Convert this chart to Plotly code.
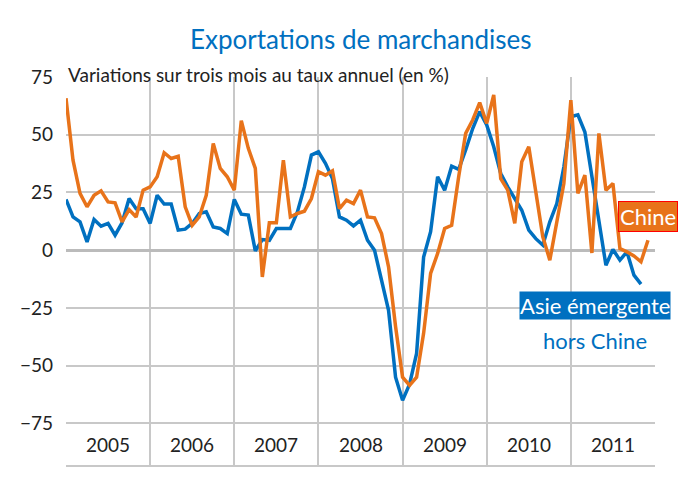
import plotly.graph_objects as go

# monthly, Jan 2005 onwards
asie = [22, 14.4, 12.3, 3.6, 13.3, 10.4, 11.6, 6.5, 11.9, 22.4, 18, 18, 11.6, 23.8, 20, 20,
        8.7, 9.1, 11.6, 15.9, 16.6, 10.1, 9.4, 7.2, 22, 15.6, 15.2, -0.3, 4.6, 4.3, 9.4, 9.4,
        9.4, 16.6, 27.4, 41.2, 42.6, 37.6, 31, 14.4, 13, 10.5, 13, 4.3, 0, -13, -26, -55,
        -65, -58, -44.7, -3, 8, 31.8, 26, 36.4, 35, 43.4, 52.7, 60, 54.2, 44.8, 33.2, 27.4,
        22.4, 17.3, 8.7, 5, 2.2, 12.3, 20.2, 36, 57.8, 58.6, 51.2, 31.8, 13, -6.5, 0.3, -4.3,
        -0.7, -10.8, -14.7]
chine = [65.8, 39, 24.6, 18.8, 23.8, 25.7, 20.9, 20.5, 12.3, 17.6, 14.4, 26, 27.4, 31.8, 42.2, 39.7,
         40.7, 18.8, 10.8, 14.4, 23.8, 46.2, 35.4, 31.8, 26, 56.1, 44.1, 35.4, -11.6, 11.9, 11.9, 39,
         14.4, 15.9, 16.9, 22.4, 34, 32.5, 34.4, 18, 21.7, 20.2, 26, 14.4, 14, 7.2, -7.2, -33,
         -55, -58.5, -55, -36, -10, -1.4, 9.4, 10.8, 31.8, 50.6, 56.4, 63.9, 54.9, 67.2, 31, 26,
         11.6, 38.3, 44.8, 26, 5.8, -4.3, 11.6, 28.9, 65, 24.6, 32.5, -1.2, 50.6, 26, 28.9, 0.7,
         -0.7, -2.5, -5, 4.3]
years = ["2005", "2006", "2007", "2008", "2009", "2010", "2011"]
yticks = [-75, -50, -25, 0, 25, 50, 75]

blue = "#0070C0"
orange = "#E8731A"
fnt = "Lato"

fig = go.Figure()
fig.add_trace(go.Scatter(x=list(range(len(asie))), y=asie, mode="lines",
                         line=dict(color=blue, width=3.5), showlegend=False))
fig.add_trace(go.Scatter(x=list(range(len(chine))), y=chine, mode="lines",
                         line=dict(color=orange, width=3.5), showlegend=False))

for i, yr in enumerate(years):
    fig.add_annotation(x=i * 12 + 6, y=-84, text=yr, showarrow=False,
                       font=dict(size=19, color="#222", family=fnt))

fig.add_annotation(x=0.5, y=1.0, xref="paper", yref="paper", yshift=56, showarrow=False,
                   text="Exportations de marchandises", font=dict(size=26, color=blue, family=fnt))
fig.add_annotation(x=0.0, y=1.0, xref="paper", yref="paper", xanchor="left", yshift=16,
                   showarrow=False, text="Variations sur trois mois au taux annuel (en %)",
                   font=dict(size=19, color="#222", family=fnt))
fig.add_annotation(x=83, y=14.5, text="Chine", showarrow=False, bgcolor=orange,
                   bordercolor="#FF0000", borderwidth=1, borderpad=1,
                   font=dict(size=22, color="white", family=fnt))
fig.add_annotation(x=75.5, y=-24, text="Asie émergente", showarrow=False, bgcolor=blue,
                   borderpad=0, font=dict(size=22, color="white", family=fnt))
fig.add_annotation(x=75.5, y=-39, text="hors Chine", showarrow=False,
                   font=dict(size=22, color=blue, family=fnt))

fig.update_layout(
    width=695, height=483,
    margin=dict(l=56, r=48, t=69, b=26),
    plot_bgcolor="white", paper_bgcolor="white",
    xaxis=dict(range=[0, 84], showticklabels=False, showgrid=False, zeroline=False,
               minor=dict(tickvals=[i * 12 for i in range(8)], showgrid=True,
                          gridcolor="#C8C8C8", gridwidth=1.5),
               showline=True, linecolor="#C8C8C8", linewidth=2, mirror=False),
    yaxis=dict(range=[-93, 75], tickvals=yticks, gridcolor="#C8C8C8", gridwidth=1.5,
               zeroline=True, zerolinecolor="#BBBBBB", zerolinewidth=2.5,
               tickfont=dict(size=19, color="#222", family=fnt), ticks="", ticklabelstandoff=12),
)

fig.write_html("out.html")
